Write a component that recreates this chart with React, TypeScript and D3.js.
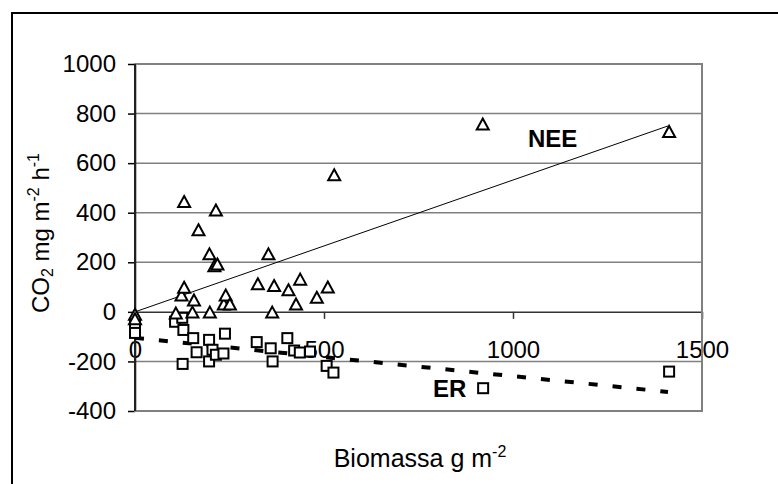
import React, { useEffect, useRef } from "react";
import * as d3 from "d3";

// NEE (triangles)
const neeBiomass = [0, 0, 108, 123, 130, 130, 152, 156, 168, 197, 198, 210, 214, 218, 235, 240, 251, 325, 353, 363, 368, 406, 426, 437, 481, 510, 527, 920, 1413];
const neeFlux = [-10, -28, -5, 68, 99, 445, -1, 48, 331, 234, -1, 186, 411, 193, 32, 68, 32, 113, 234, -1, 106, 89, 32, 132, 59, 100, 553, 758, 728];

// ER (squares)
const erBiomass = [0, 0, 106, 125, 128, 126, 154, 163, 196, 196, 205, 214, 234, 238, 322, 359, 364, 403, 421, 436, 463, 507, 525, 921, 1413];
const erFlux = [-50, -85, -40, -24, -73, -210, -106, -163, -113, -200, -153, -173, -168, -88, -122, -147, -200, -106, -156, -164, -160, -218, -245, -308, -241];

// trend lines
const neeFit = [[0, 0], [1410, 750]];
const erFit = [[0, -105], [1410, -323]];

const xTicks = [0, 500, 1000, 1500];
const yTicks = [-400, -200, 0, 200, 400, 600, 800, 1000];

const font = "Arial, 'Liberation Sans', sans-serif";
const plain = (d) => String(d); // keep ascii hyphen, no thousands comma

function App() {
  const svgRef = useRef(null);
  const width = 778;
  const height = 484;
  const plot = { left: 135, right: 702, top: 64, bottom: 411 };

  useEffect(() => {
    const svg = d3.select(svgRef.current);
    svg.selectAll("*").remove();

    const x = d3.scaleLinear().domain([0, 1500]).range([plot.left, plot.right]);
    const y = d3.scaleLinear().domain([-400, 1000]).range([plot.bottom, plot.top]);

    // chart area border
    svg
      .append("rect")
      .attr("x", 12)
      .attr("y", 13)
      .attr("width", 800)
      .attr("height", 500)
      .attr("fill", "white")
      .attr("stroke", "black")
      .attr("stroke-width", 2);

    // gridlines
    svg
      .append("g")
      .selectAll("line")
      .data(yTicks.filter((d) => d !== 0))
      .enter()
      .append("line")
      .attr("x1", plot.left)
      .attr("x2", plot.right)
      .attr("y1", (d) => y(d))
      .attr("y2", (d) => y(d))
      .attr("stroke", "#808080")
      .attr("stroke-width", 1.5);

    // y axis
    const yAxis = svg
      .append("g")
      .attr("transform", `translate(${plot.left},0)`)
      .call(d3.axisLeft(y).tickValues(yTicks).tickSize(7).tickSizeOuter(0).tickPadding(12).tickFormat(plain));
    yAxis.selectAll("path, line").attr("stroke", "black").attr("stroke-width", 1.5);
    yAxis.selectAll("text").attr("font-family", font).attr("font-size", 24).attr("fill", "black");

    // x axis at zero
    const xAxis = svg
      .append("g")
      .attr("transform", `translate(0,${y(0)})`)
      .call(d3.axisBottom(x).tickValues(xTicks).tickSize(7).tickSizeOuter(0).tickPadding(22).tickFormat(plain));
    xAxis.selectAll("path, line").attr("stroke", "#333").attr("stroke-width", 1.5);
    xAxis.selectAll("text").attr("font-family", font).attr("font-size", 24).attr("fill", "black");

    // plot area border
    svg
      .append("rect")
      .attr("x", plot.left)
      .attr("y", plot.top)
      .attr("width", plot.right - plot.left)
      .attr("height", plot.bottom - plot.top)
      .attr("fill", "none")
      .attr("stroke", "#808080")
      .attr("stroke-width", 2);
    svg
      .append("line")
      .attr("x1", plot.left)
      .attr("x2", plot.left)
      .attr("y1", plot.top)
      .attr("y2", plot.bottom)
      .attr("stroke", "black")
      .attr("stroke-width", 1.5);

    const line = d3
      .line()
      .x((d) => x(d[0]))
      .y((d) => y(d[1]));

    svg
      .append("path")
      .attr("d", line(neeFit))
      .attr("fill", "none")
      .attr("stroke", "black")
      .attr("stroke-width", 1);

    svg
      .append("path")
      .attr("d", line(erFit))
      .attr("fill", "none")
      .attr("stroke", "black")
      .attr("stroke-width", 4)
      .attr("stroke-dasharray", "9 15");

    // ER squares
    svg
      .append("g")
      .selectAll("rect")
      .data(erBiomass.map((b, i) => [b, erFlux[i]]))
      .enter()
      .append("rect")
      .attr("x", (d) => x(d[0]) - 5)
      .attr("y", (d) => y(d[1]) - 5)
      .attr("width", 10)
      .attr("height", 10)
      .attr("fill", "white")
      .attr("stroke", "black")
      .attr("stroke-width", 2);

    // NEE triangles
    const tri = "M0,-5.5L6,5.5L-6,5.5Z";
    svg
      .append("g")
      .selectAll("path")
      .data(neeBiomass.map((b, i) => [b, neeFlux[i]]))
      .enter()
      .append("path")
      .attr("d", tri)
      .attr("transform", (d) => `translate(${x(d[0])},${y(d[1])})`)
      .attr("fill", "white")
      .attr("stroke", "black")
      .attr("stroke-width", 2)
      .attr("stroke-linejoin", "miter");

    // series labels
    svg
      .append("text")
      .attr("x", 528)
      .attr("y", 147)
      .attr("font-family", font)
      .attr("font-size", 24)
      .attr("font-weight", "bold")
      .text("NEE");
    svg
      .append("text")
      .attr("x", 433)
      .attr("y", 397)
      .attr("font-family", font)
      .attr("font-size", 24)
      .attr("font-weight", "bold")
      .text("ER");

    // axis titles
    const xt = svg
      .append("text")
      .attr("x", 420)
      .attr("y", 467)
      .attr("text-anchor", "middle")
      .attr("font-family", font)
      .attr("font-size", 25);
    xt.append("tspan").text("Biomassa g m");
    xt.append("tspan").attr("font-size", 16).attr("dy", -10).text("-2");

    const yt = svg
      .append("text")
      .attr("transform", `translate(49,233) rotate(-90)`)
      .attr("text-anchor", "middle")
      .attr("font-family", font)
      .attr("font-size", 24);
    yt.append("tspan").text("CO");
    yt.append("tspan").attr("font-size", 16).attr("dy", 4).text("2");
    yt.append("tspan").attr("dy", -4).text(" mg m");
    yt.append("tspan").attr("font-size", 16).attr("dy", -10).text("-2");
    yt.append("tspan").attr("dy", 10).text(" h");
    yt.append("tspan").attr("font-size", 16).attr("dy", -10).text("-1");
  }, []);

  return (
    <div style={{ position: "absolute", left: 0, top: 0 }}>
      <svg ref={svgRef} width={width} height={height} style={{ display: "block", background: "white" }} />
    </div>
  );
}

export default App;
